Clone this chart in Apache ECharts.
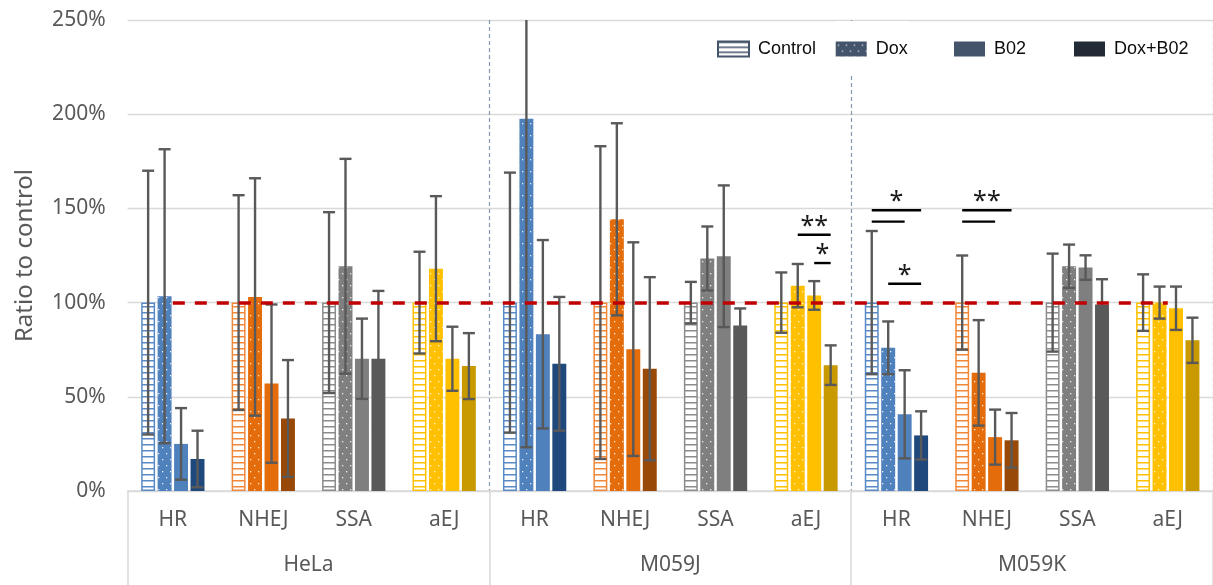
<!DOCTYPE html>
<html>
<head>
<meta charset="utf-8">
<script src="https://cdn.jsdelivr.net/npm/echarts@6/dist/echarts.min.js"></script>
<style>
html,body{margin:0;padding:0;background:#fff;}
#chart{width:1213px;height:585px;}
</style>
</head>
<body>
<div id="chart"></div>
<script>
// ---- data ----
const cellLines = ['HeLa', 'M059J', 'M059K'];
const pathways = ['HR', 'NHEJ', 'SSA', 'aEJ'];
const treatments = ['Control', 'Dox', 'B02', 'Dox+B02'];
const yTicks = [0, 50, 100, 150, 200, 250];
const referenceLevel = 100;

// order: HeLa HR,NHEJ,SSA,aEJ | M059J ... | M059K ...
const controlVals = [100, 100, 100, 100, 100, 100, 100, 100, 100, 100, 100, 100];
const controlErr  = [70, 57, 48, 27, 69, 83, 11, 16, 38, 25, 26, 15];
const doxVals     = [103.4, 103, 119.3, 118, 197.6, 144.2, 123.4, 109, 76, 62.7, 119.3, 100];
const doxErr      = [78, 63, 57, 38.5, 174.4, 51, 17, 11.5, 14, 28, 11.5, 8.5];
const b02Vals     = [25, 57, 70.2, 70.2, 83.2, 75.3, 124.6, 103.8, 40.7, 28.6, 118.6, 97];
const b02Err      = [19, 42, 21.3, 17, 50, 56.7, 37.6, 7.6, 23.4, 14.6, 6.5, 11.5];
const doxB02Vals  = [17, 38.5, 70.2, 66.3, 67.5, 64.9, 87.9, 66.8, 29.5, 26.9, 99, 80];
const doxB02Err   = [15, 31, 36, 17.5, 35.5, 48.6, 9, 10.5, 12.8, 14.5, 13.4, 12];

// significance: [categoryIndex, barA, barB, level(%), label]
const sigMarks = [
  [7, 1, 3, 136, '**'],
  [7, 2, 3, 121, '*'],
  [8, 0, 3, 149, '*'],
  [8, 0, 2, 143, ''],
  [8, 1, 3, 110, '*'],
  [9, 0, 3, 149, '**'],
  [9, 0, 2, 143, '']
];

// ---- styling ----
const pathColors = {
  HR:   {main: '#4F81BD', ctrl: '#5A8AC6', dark: '#1F497D'},
  NHEJ: {main: '#E46C0A', ctrl: '#F0883A', dark: '#984807'},
  SSA:  {main: '#7F7F7F', ctrl: '#8C8C8C', dark: '#595959'},
  aEJ:  {main: '#FFC000', ctrl: '#FFC000', dark: '#C99A00'}
};
const legendSlate = '#44546A';
const legendDark = '#222A35';
const BAR_CAT_GAP = 0.30, BAR_GAP = 0.18;

function stripePattern(color, period) {
  const c = document.createElement('canvas');
  c.width = 4; c.height = period;
  const g = c.getContext('2d');
  g.fillStyle = '#fff'; g.fillRect(0, 0, 4, period);
  g.fillStyle = color; g.fillRect(0, 0, 4, 1.5);
  return {image: c, repeat: 'repeat'};
}
function dotPattern(color) {
  const c = document.createElement('canvas');
  c.width = 8; c.height = 12;
  const g = c.getContext('2d');
  g.fillStyle = color; g.fillRect(0, 0, 8, 12);
  g.fillStyle = 'rgba(255,255,255,0.85)';
  g.fillRect(2, 3, 1.3, 1.3);
  g.fillRect(6, 9, 1.3, 1.3);
  return {image: c, repeat: 'repeat'};
}

const catKeys = [];
cellLines.forEach(c => pathways.forEach(p => catKeys.push(c + '|' + p)));
const pathOf = i => pathways[i % pathways.length];

function barData(vals, kind) {
  return vals.map((v, i) => {
    const pc = pathColors[pathOf(i)];
    let style;
    if (kind === 0) style = {color: stripePattern(pc.ctrl, 6), borderColor: pc.ctrl, borderWidth: 1.5};
    else if (kind === 1) style = {color: dotPattern(pc.main)};
    else if (kind === 2) style = {color: pc.main};
    else style = {color: pc.dark};
    return {value: v, itemStyle: style};
  });
}

function barLayout(api) {
  const band = api.size([1, 0])[0];
  const bw = band * (1 - BAR_CAT_GAP) / (4 + 3 * BAR_GAP);
  return {bw: bw, step: bw * (1 + BAR_GAP)};
}

function errRender(k) {
  return function (params, api) {
    const i = api.value(0), v = api.value(1), e = api.value(2);
    const L = barLayout(api);
    const dx = (k - 1.5) * L.step;
    const yMax = yTicks[yTicks.length - 1];
    const hi = Math.min(v + e, yMax), lo = Math.max(v - e, 0);
    const pHi = api.coord([i, hi]), pLo = api.coord([i, lo]);
    const x = pHi[0] + dx, half = 6;
    const st = {stroke: '#595959', lineWidth: 2.4};
    const ch = [{type: 'line', shape: {x1: x, y1: pHi[1], x2: x, y2: pLo[1]}, style: st}];
    if (v + e <= yMax) ch.push({type: 'line', shape: {x1: x - half, y1: pHi[1], x2: x + half, y2: pHi[1]}, style: st});
    if (v - e >= 0) ch.push({type: 'line', shape: {x1: x - half, y1: pLo[1], x2: x + half, y2: pLo[1]}, style: st});
    return {type: 'group', children: ch};
  };
}

function sigRender(params, api) {
  const s = sigMarks[params.dataIndex];
  const L = barLayout(api);
  const p = api.coord([s[0], s[3]]);
  const xa = p[0] + (s[1] - 1.5) * L.step, xb = p[0] + (s[2] - 1.5) * L.step;
  const ch = [{type: 'line', shape: {x1: xa, y1: p[1], x2: xb, y2: p[1]}, style: {stroke: '#000', lineWidth: 2.4}}];
  if (s[4]) ch.push({type: 'text', style: {text: s[4], x: (xa + xb) / 2, y: p[1] - 8, align: 'center', verticalAlign: 'middle', fill: '#1a1a1a', font: '25px "Noto Sans"'}});
  return {type: 'group', children: ch};
}

const errSets = [[controlVals, controlErr], [doxVals, doxErr], [b02Vals, b02Err], [doxB02Vals, doxB02Err]];
const valSets = [controlVals, doxVals, b02Vals, doxB02Vals];
const legendStyles = [
  {color: stripePattern(legendSlate, 5), borderColor: legendSlate, borderWidth: 1.5},
  {color: dotPattern(legendSlate)},
  {color: legendSlate},
  {color: legendDark}
];

const series = [];
treatments.forEach((t, k) => {
  series.push({
    name: t, type: 'bar', xAxisIndex: 0,
    barCategoryGap: (BAR_CAT_GAP * 100) + '%', barGap: (BAR_GAP * 100) + '%',
    itemStyle: legendStyles[k],
    data: barData(valSets[k], k),
    z: 2
  });
});
treatments.forEach((t, k) => {
  series.push({
    type: 'custom', name: t + ' err', xAxisIndex: 0, z: 4, silent: true,
    renderItem: errRender(k),
    encode: {x: 0, y: 1},
    data: errSets[k][0].map((v, i) => [i, v, errSets[k][1][i]])
  });
});
series.push({
  type: 'custom', name: 'sig', xAxisIndex: 0, z: 6, silent: true,
  renderItem: sigRender, encode: {x: 0, y: 1},
  data: sigMarks.map(s => [s[0], s[3]]),
  markLine: {
    silent: true, symbol: 'none', z: 5,
    label: {show: false},
    lineStyle: {color: '#C00000', width: 3.5, type: [12, 10]},
    data: [[{coord: [0, referenceLevel]}, {coord: [catKeys.length - 1, referenceLevel]}]]
  }
});

const axisFont = '"Noto Sans", sans-serif';
const legendText = {color: '#0D0D0D', fontSize: 18, fontFamily: '"Liberation Sans", Arial, sans-serif', padding: [0, 0, 0, 4], lineHeight: 20};
const legendPos = [717, 835.7, 954, 1074];
const legends = treatments.map((t, k) => ({
  data: [t], left: legendPos[k], top: k === 1 ? 21 : 39,
  padding: k === 1 ? [18, 0, 17, 0] : 0,
  backgroundColor: k === 1 ? '#fff' : 'transparent',
  itemWidth: 31, itemHeight: 15, icon: 'rect',
  textStyle: legendText, selectedMode: false
}));

const chart = echarts.init(document.getElementById('chart'), null, {renderer: 'canvas'});
chart.setOption({
  animation: false,
  backgroundColor: '#fff',
  legend: legends,
  grid: {left: 127.6, top: 20, width: 1090.2, height: 471, containLabel: false},
  xAxis: [
    {
      type: 'category', data: catKeys, position: 'bottom',
      axisLine: {show: true, lineStyle: {color: '#D9D9D9', width: 1.5}},
      axisTick: {show: false},
      axisLabel: {interval: 0, margin: 19, color: '#595959', fontSize: 21, fontFamily: axisFont,
        formatter: v => v.split('|')[1]}
    },
    {
      type: 'category', data: cellLines, position: 'bottom', boundaryGap: true,
      axisLine: {show: false},
      axisTick: {show: true, interval: 0, length: 94, lineStyle: {color: '#D9D9D9', width: 1.5}},
      axisLabel: {interval: 0, margin: 64, color: '#595959', fontSize: 21, fontFamily: axisFont},
      splitLine: {show: true, interval: (idx) => idx === 1 || idx === 2,
        lineStyle: {color: '#8496B0', width: 1.2, type: [4, 3]}}
    }
  ],
  yAxis: {
    type: 'value', min: yTicks[0], max: yTicks[yTicks.length - 1], interval: yTicks[1] - yTicks[0],
    name: 'Ratio to control', nameLocation: 'middle', nameGap: 90,
    nameTextStyle: {color: '#595959', fontSize: 24, fontFamily: axisFont},
    axisLine: {show: false}, axisTick: {show: false},
    axisLabel: {margin: 22, color: '#595959', fontSize: 21, fontFamily: axisFont, formatter: '{value}%'},
    splitLine: {lineStyle: {color: '#D9D9D9', width: 1.3}}
  },
  series: series
});
</script>
</body>
</html>
